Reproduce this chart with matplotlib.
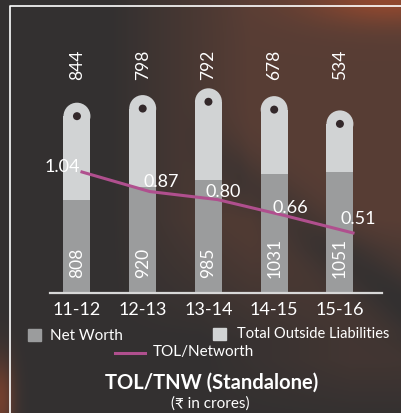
import numpy as np
import matplotlib.pyplot as plt
from matplotlib.patches import Ellipse, Rectangle
from matplotlib.lines import Line2D

plt.rcParams['font.family'] = ['Lato', 'DejaVu Sans']

years      = ['11-12', '12-13', '13-14', '14-15', '15-16']
net_worth  = [808, 920, 985, 1031, 1051]
outside_li = [844, 798, 792, 678, 534]
tol_ratio  = [1.04, 0.87, 0.80, 0.66, 0.51]

NW_COL   = '#9b9c9d'
TOL_COL  = '#d1d3d4'
LINE_COL = '#b04f8e'
DOT_COL  = '#33282a'

W, H = 402, 414
fig = plt.figure(figsize=(W / 100, H / 100), dpi=100)
fig.patch.set_facecolor('#333131')

def fx(px):
    return px / W

def fy(py):
    return 1 - py / H

# photo-like background, just a soft blend of a few tones
yy, xx = np.mgrid[0:H, 0:W].astype(float)
base  = np.array([0.20, 0.19, 0.19])
brown = np.array([0.37, 0.25, 0.21])
orng  = np.array([0.75, 0.32, 0.17])
w_b = np.clip((xx - 110) / 140, 0, 1) * np.clip((340 - yy) / 120, 0, 1) * 0.85
w_b += 0.35 * np.clip((xx - 200) / 150, 0, 1) * np.clip((yy - 250) / 80, 0, 1) * np.clip((420 - yy) / 60, 0, 1)
band = np.exp(-(((yy - 0.75 * xx) ** 2) / (2 * 25 ** 2))) * np.clip((xx - 180) / 60, 0, 1)
w_b = np.clip(w_b - 0.5 * band, 0, 1)
w_o = 0.55 * np.exp(-(((xx - 390) ** 2) / (2 * 60 ** 2) + (yy ** 2) / (2 * 18 ** 2)))
w_o += 0.45 * np.exp(-(((xx - 0) ** 2) / (2 * 10 ** 2) + ((yy - 400) ** 2) / (2 * 30 ** 2)))
img = base * (1 - w_b[..., None]) + brown * w_b[..., None]
img = img * (1 - w_o[..., None]) + orng * w_o[..., None]
bgax = fig.add_axes([0, 0, 1, 1])
bgax.imshow(np.clip(img, 0, 1), extent=[0, W, H, 0], aspect='auto', zorder=0)
bgax.plot([10, 10, W], [H, 7, 7], color='white', lw=1.2)
bgax.set_xlim(0, W); bgax.set_ylim(H, 0)
bgax.axis('off')

# main bar axes
ax_l, ax_r, ax_base = 50, 382, 294
px_per_unit = 0.1152
ymax = 2000
ax = fig.add_axes([fx(ax_l), fy(ax_base), (ax_r - ax_l) / W, ymax * px_per_unit / H])
ax.set_facecolor('none')
xmin, xmax = -0.41, 4.64
ax.set_xlim(xmin, xmax)
ax.set_ylim(0, ymax)
x = np.arange(len(years))
bw = 0.41

px_per_x = (ax_r - ax_l) / (xmax - xmin)
r_y = bw / 2 * px_per_x / px_per_unit
totals = [a + b for a, b in zip(net_worth, outside_li)]

ax.bar(x, net_worth, width=bw, color=NW_COL, zorder=2)
ax.bar(x, [t - n - r_y for t, n in zip(totals, net_worth)], bottom=net_worth,
       width=bw, color=TOL_COL, zorder=2)
for xi, t in zip(x, totals):
    cy = t - r_y
    ax.add_patch(Ellipse((xi, cy), bw, 2 * r_y, color=TOL_COL, zorder=2, lw=0))
    ax.add_patch(Ellipse((xi, cy), 8 / px_per_x, 8 / px_per_unit, color=DOT_COL, zorder=3, lw=0))

for xi, v in zip(x, outside_li):
    ax.text(xi, 1858, str(v), rotation=90, ha='center', va='bottom',
            color='white', fontsize=12.5)
for xi, v in zip(x, net_worth):
    ax.text(xi, 139, str(v), rotation=90, ha='center', va='bottom',
            color='white', fontsize=12.5)

ax.set_xticks(x, years)
ax.tick_params(axis='x', length=0, pad=6, labelsize=13, labelcolor='white')
ax.set_yticks([])
for s in ['top', 'left', 'right']:
    ax.spines[s].set_visible(False)
ax.spines['bottom'].set_color('#d8d8d8')
ax.spines['bottom'].set_linewidth(1.6)

# ratio line on its own overlay axes
ax2 = fig.add_axes(ax.get_position())
ax2.set_facecolor('none')
ax2.set_xlim(-0.472, 4.428)
ax2.set_ylim(-0.012, 1.991)
ax2.axis('off')
ax2.plot(x, tol_ratio, color=LINE_COL, lw=2.2, zorder=4)
label_off = [(-2, 6, 'right'), (12, 11, 'center'), (6, 9, 'center'),
             (5, 9, 'center'), (5, 15, 'center')]
for xi, v, (dx, dy, ha) in zip(x, tol_ratio, label_off):
    ax2.annotate(f'{v:.2f}', (xi, v), xytext=(dx, dy), textcoords='offset pixels',
                 ha=ha, va='center', color='white', fontsize=13, zorder=5)

# legend, placed by hand
fig.add_artist(Rectangle((fx(28), fy(342)), 13 / W, 12 / H, color=NW_COL, transform=fig.transFigure))
fig.text(fx(50), fy(336), 'Net Worth', color='white', fontsize=11, va='center')
fig.add_artist(Rectangle((fx(213), fy(341)), 13 / W, 12 / H, color=TOL_COL, transform=fig.transFigure))
fig.text(fx(237), fy(334), 'Total Outside Liabilities', color='white', fontsize=10.5, va='center')
fig.add_artist(Line2D([fx(115), fx(145)], [fy(354), fy(354)], color=LINE_COL, lw=2.2,
                      transform=fig.transFigure))
fig.text(fx(153), fy(352), 'TOL/Networth', color='white', fontsize=11, va='center')

fig.text(fx(212), fy(383), 'TOL/TNW (Standalone)', color='white', fontsize=14.5,
         fontweight='bold', ha='center', va='center')
fig.text(fx(210), fy(404), '(₹ in crores)', color='white', fontsize=11,
         ha='center', va='center')

fig.savefig('out.png', dpi=100, facecolor=fig.get_facecolor())
